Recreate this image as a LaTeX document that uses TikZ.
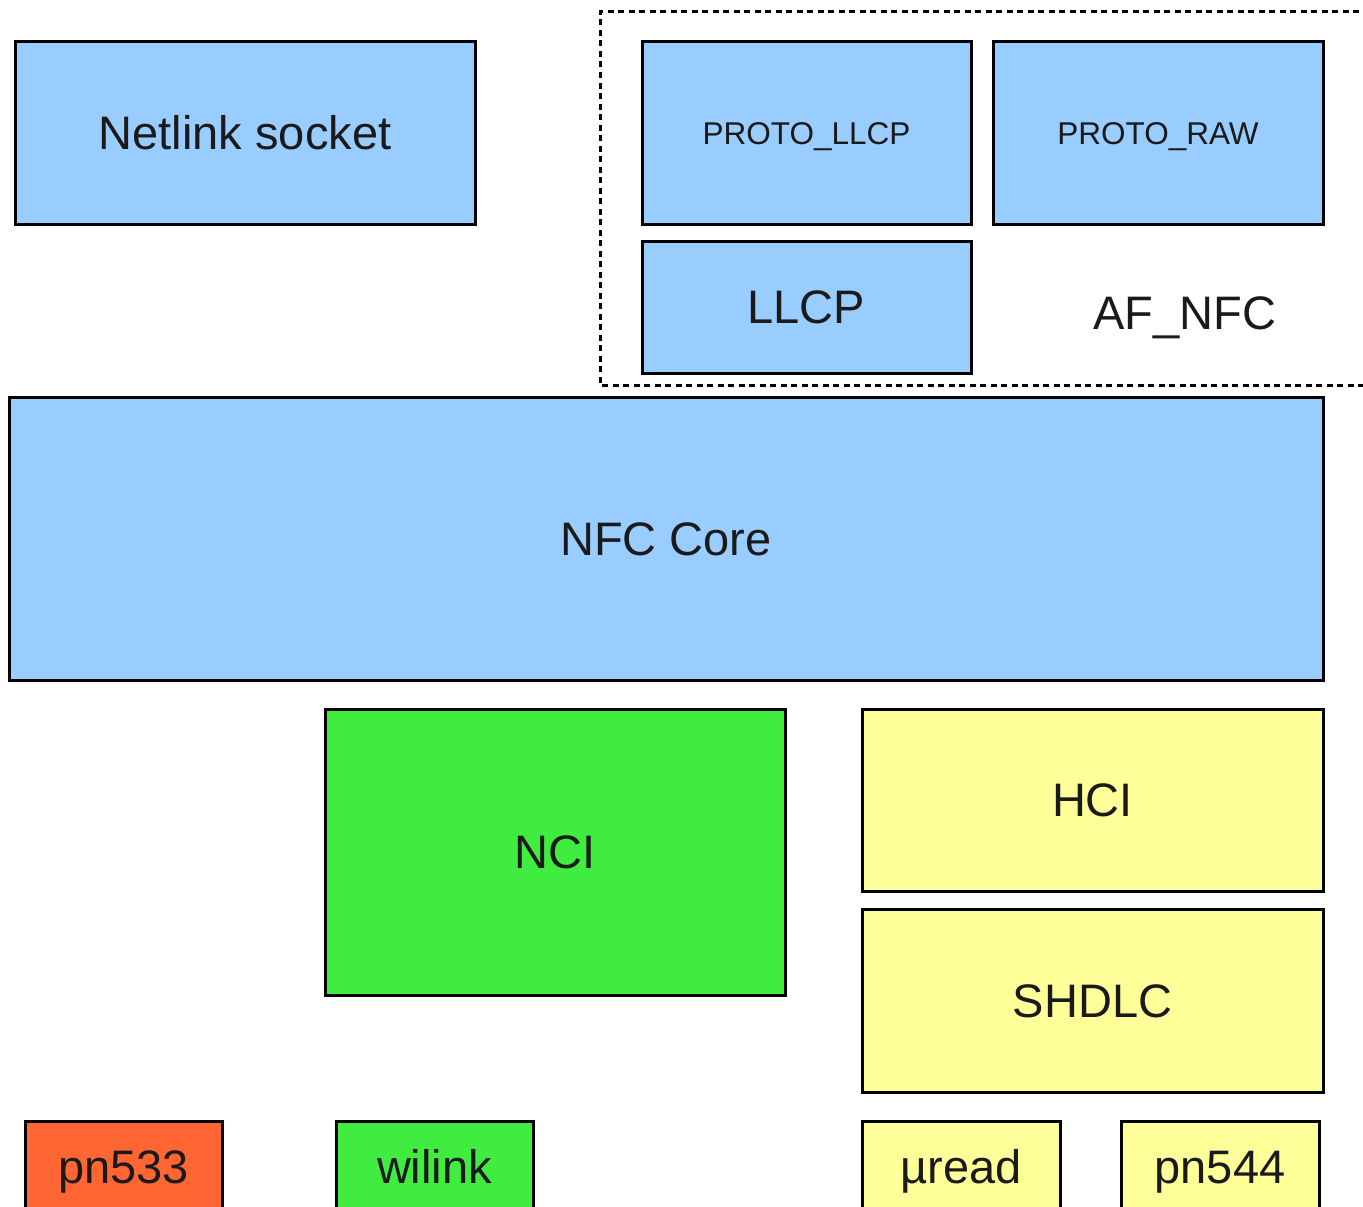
\documentclass[tikz,border=0pt]{standalone}
\usepackage{fontspec}
\setmainfont{Liberation Sans}
\definecolor{nblue}{HTML}{99CCFF}
\definecolor{ngreen}{HTML}{3FEC3F}
\definecolor{nyellow}{HTML}{FFFF99}
\definecolor{norange}{HTML}{FF6633}
\definecolor{ntext}{HTML}{1A1A1A}
\tikzset{
  blk/.style={draw=black, line width=3pt, text=ntext, font=\fontsize{47}{56}\selectfont},
  small/.style={font=\fontsize{31.5}{38}\selectfont, text height=22.6pt, text depth=0pt},
  lbl/.style={text=ntext, font=\fontsize{47}{56}\selectfont, text height=33.7pt, text depth=0pt},
}
\begin{document}
\begin{tikzpicture}[x=1pt,y=-1pt]
\useasboundingbox (0,0) rectangle (1363,1207);
\clip (0,0) rectangle (1363,1207);
\fill[white] (0,0) rectangle (1363,1207);
% AF_NFC dashed group
\draw[line width=3pt, dash pattern=on 6pt off 4.5pt] (1380,12) -- (600,12) -- (600,385) -- (1380,385);
\node[lbl] (afnfc) at (1185,313) {AF\_NFC};
% boxes
\draw[blk, fill=nblue] (15,42) rectangle (475,224) node[midway, lbl] (netlink) {Netlink socket};
\draw[blk, fill=nblue] (642,42) rectangle (971,224) node[midway, text=ntext, small] (protollcp) {PROTO\_LLCP};
\draw[blk, fill=nblue] (993,42) rectangle (1323,224) node[midway, text=ntext, small] (protoraw) {PROTO\_RAW};
\draw[blk, fill=nblue] (642,241) rectangle (971,373) node[midway, lbl] (llcp) {LLCP};
\draw[blk, fill=nblue] (9,397) rectangle (1323,680) node[midway, lbl] (core) {NFC Core};
\draw[blk, fill=ngreen] (325,709) rectangle (785,995) node[midway, lbl] (nci) {NCI};
\draw[blk, fill=nyellow] (862,709) rectangle (1323,891) node[midway, lbl] (hci) {HCI};
\draw[blk, fill=nyellow] (862,909) rectangle (1323,1092) node[midway, lbl] (shdlc) {SHDLC};
\draw[blk, fill=norange] (25,1121) rectangle (222,1300);
\node[lbl] (pn533) at (123.5,1167) {pn533};
\draw[blk, fill=ngreen] (336,1121) rectangle (533,1300);
\node[lbl] (wilink) at (434.5,1167) {wilink};
\draw[blk, fill=nyellow] (862,1121) rectangle (1060,1300);
\node[lbl] (uread) at (961,1167) {µread};
\draw[blk, fill=nyellow] (1121,1121) rectangle (1319,1300);
\node[lbl] (pn544) at (1220,1167) {pn544};
\end{tikzpicture}
\end{document}
